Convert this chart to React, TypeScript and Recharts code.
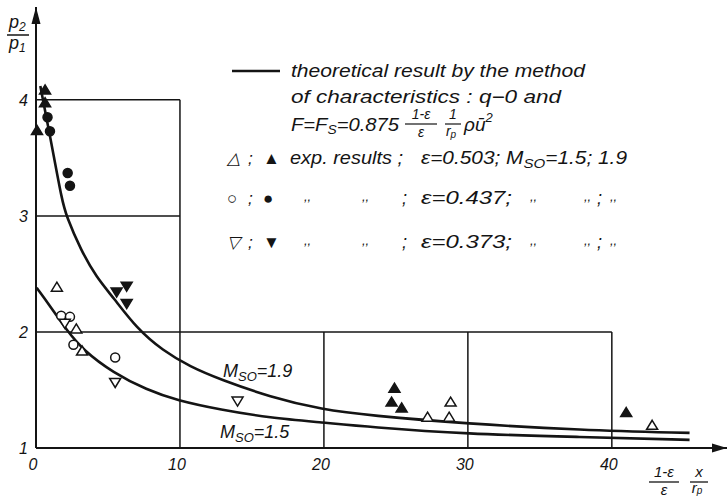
import React from "react";
import { ComposedChart, Line, Scatter, XAxis, YAxis, ReferenceLine, ReferenceDot } from "recharts";

// theoretical curves (x = (1-e)/e * x/rp, y = p2/p1)
const curveM19 = [
  { x: 0.3, y: 4.12 }, { x: 1.2, y: 3.54 }, { x: 1.8, y: 3.14 }, { x: 2.1, y: 3.0 },
  { x: 3.1, y: 2.71 }, { x: 4.2, y: 2.47 }, { x: 5.35, y: 2.3 }, { x: 7.0, y: 2.03 },
  { x: 8.8, y: 1.84 }, { x: 10.7, y: 1.7 }, { x: 12.8, y: 1.59 }, { x: 16.25, y: 1.44 },
  { x: 19.9, y: 1.33 }, { x: 23.2, y: 1.28 }, { x: 29.9, y: 1.21 }, { x: 37.8, y: 1.155 },
  { x: 45.4, y: 1.13 },
];
const curveM15 = [
  { x: 0.05, y: 2.38 }, { x: 1.0, y: 2.22 }, { x: 2.1, y: 2.02 }, { x: 3.3, y: 1.84 },
  { x: 5.35, y: 1.65 }, { x: 7.7, y: 1.5 }, { x: 9.8, y: 1.41 }, { x: 12.8, y: 1.33 },
  { x: 16.25, y: 1.26 }, { x: 19.9, y: 1.22 }, { x: 23.2, y: 1.18 }, { x: 29.9, y: 1.12 },
  { x: 37.8, y: 1.095 }, { x: 45.4, y: 1.07 },
];

// experimental points
const openUp = [
  { x: 1.45, y: 2.39 }, { x: 2.8, y: 2.03 }, { x: 3.2, y: 1.84 }, { x: 27.2, y: 1.27 },
  { x: 28.8, y: 1.4 }, { x: 28.7, y: 1.27 }, { x: 42.8, y: 1.2 },
];
const filledUp = [
  { x: 0.63, y: 4.09 }, { x: 0.63, y: 3.98 }, { x: 0.07, y: 3.74 }, { x: 24.9, y: 1.52 },
  { x: 24.7, y: 1.4 }, { x: 25.4, y: 1.35 }, { x: 41.0, y: 1.31 },
];
const openCircle = [
  { x: 1.75, y: 2.14 }, { x: 2.36, y: 2.13 }, { x: 2.6, y: 1.89 }, { x: 5.5, y: 1.78 },
];
const filledCircle = [
  { x: 0.8, y: 3.85 }, { x: 0.97, y: 3.73 }, { x: 2.2, y: 3.37 }, { x: 2.36, y: 3.26 },
];
const openDown = [{ x: 2.0, y: 2.07 }, { x: 5.5, y: 1.56 }, { x: 14.0, y: 1.4 }];
const filledDown = [{ x: 5.6, y: 2.34 }, { x: 6.3, y: 2.39 }, { x: 6.3, y: 2.24 }];

const xTicks = [0, 10, 20, 30, 40];
const yTicks = [1, 2, 3, 4];

// partial grid of the original figure
const gridSegments = [
  [{ x: 0, y: 4 }, { x: 10, y: 4 }],
  [{ x: 0, y: 3 }, { x: 10, y: 3 }],
  [{ x: 0, y: 2 }, { x: 40, y: 2 }],
  [{ x: 10, y: 1 }, { x: 10, y: 4 }],
  [{ x: 20, y: 1 }, { x: 20, y: 2 }],
  [{ x: 30, y: 1 }, { x: 30, y: 2 }],
  [{ x: 40, y: 1 }, { x: 40, y: 2 }],
];

const INK = "#141414";
const FONT = "'Liberation Sans', Arial, sans-serif";

const tri = (up: boolean, filled: boolean) => (p: any) => {
  const { cx, cy } = p;
  const h = 9, w = 5.5;
  const d = up
    ? `M${cx},${cy - h / 2} L${cx + w},${cy + h / 2} L${cx - w},${cy + h / 2} Z`
    : `M${cx},${cy + h / 2} L${cx + w},${cy - h / 2} L${cx - w},${cy - h / 2} Z`;
  return <path d={d} fill={filled ? INK : "#fff"} stroke={INK} strokeWidth={1.5} />;
};
const circ = (filled: boolean) => (p: any) => (
  <circle cx={p.cx} cy={p.cy} r={4.5} fill={filled ? INK : "#fff"} stroke={INK} strokeWidth={1.5} />
);

const XTick = ({ x, y, payload }: any) => (
  <text x={x - 3} y={y + 22} textAnchor="middle" fontFamily={FONT} fontStyle="italic" fontSize={16} fill={INK}>
    {payload.value}
  </text>
);
const YTick = ({ x, y, payload }: any) => (
  <text x={x - 8} y={y + 6} textAnchor="end" fontFamily={FONT} fontStyle="italic" fontSize={16} fill={INK}>
    {payload.value}
  </text>
);

export default function App() {
  const t = { fontFamily: FONT, fontStyle: "italic", fill: INK } as const;
  const ditto = (x: number, y: number) => <text x={x} y={y - 3} fontSize={13} {...t}>,,</text>;
  const legendRow = (y: number, open: string, filled: string) => (
    <g>
      <text x={227} y={y} fontSize={17} {...t}>{open}</text>
      <text x={248} y={y} fontSize={17} {...t}>;</text>
      <text x={263} y={y} fontSize={17} {...t}>{filled}</text>
    </g>
  );
  return (
    <div style={{ position: "absolute", left: 0, top: 0, width: 727, height: 500, background: "#fff" }}>
      <ComposedChart width={727} height={500} margin={{ top: 7, right: 0, bottom: 22, left: 0 }}>
        <XAxis type="number" dataKey="x" domain={[0, 48]} ticks={xTicks} height={30}
          axisLine={{ stroke: INK, strokeWidth: 2 }} tickLine={false} tickSize={0} tickMargin={0} tick={<XTick />} />
        <YAxis type="number" domain={[1, 4.8]} ticks={yTicks} width={36}
          axisLine={{ stroke: INK, strokeWidth: 2 }} tickLine={false} tickSize={0} tickMargin={0} tick={<YTick />} />
        {gridSegments.map((s, i) => (
          <ReferenceLine key={i} segment={s} stroke={INK} strokeWidth={1.5} ifOverflow="visible" />
        ))}
        <ReferenceDot x={48} y={1} r={0} ifOverflow="visible"
          shape={(p: any) => <path d={`M${p.cx},${p.cy} l-15,-4.5 l0,9 z`} fill={INK} />} />
        <ReferenceDot x={0} y={4.8} r={0} ifOverflow="visible"
          shape={(p: any) => <path d={`M${p.cx},${p.cy} l-4.5,17 l9,0 z`} fill={INK} />} />
        <Line data={curveM19} dataKey="y" type="basis" stroke={INK} strokeWidth={2.6} dot={false} isAnimationActive={false} />
        <Line data={curveM15} dataKey="y" type="basis" stroke={INK} strokeWidth={2.6} dot={false} isAnimationActive={false} />
        <Scatter data={openUp} dataKey="y" shape={tri(true, false)} isAnimationActive={false} />
        <Scatter data={filledUp} dataKey="y" shape={tri(true, true)} isAnimationActive={false} />
        <Scatter data={openCircle} dataKey="y" shape={circ(false)} isAnimationActive={false} />
        <Scatter data={filledCircle} dataKey="y" shape={circ(true)} isAnimationActive={false} />
        <Scatter data={openDown} dataKey="y" shape={tri(false, false)} isAnimationActive={false} />
        <Scatter data={filledDown} dataKey="y" shape={tri(false, true)} isAnimationActive={false} />
      </ComposedChart>

      <svg width={727} height={500} style={{ position: "absolute", left: 0, top: 0, pointerEvents: "none" }}>
        {/* y axis title p2/p1 */}
        <text x={9} y={28} fontSize={18} {...t}>p<tspan fontSize={12} dy={3}>2</tspan></text>
        <line x1={7} x2={29} y1={35} y2={35} stroke={INK} strokeWidth={1.5} />
        <text x={9} y={49} fontSize={18} {...t}>p<tspan fontSize={12} dy={3}>1</tspan></text>

        {/* x axis title */}
        <text x={664} y={477} fontSize={15} textAnchor="middle" {...t}>1-ε</text>
        <line x1={649} x2={679} y1={482} y2={482} stroke={INK} strokeWidth={1.3} />
        <text x={664} y={495} fontSize={15} textAnchor="middle" {...t}>ε</text>
        <text x={699} y={477} fontSize={15} textAnchor="middle" {...t}>x</text>
        <line x1={690} x2={708} y1={482} y2={482} stroke={INK} strokeWidth={1.3} />
        <text x={697} y={493} fontSize={15} textAnchor="middle" {...t}>r<tspan fontSize={10} dy={1}>p</tspan></text>

        {/* legend */}
        <line x1={232} x2={280} y1={71} y2={71} stroke={INK} strokeWidth={2.6} />
        <text x={291} y={77} fontSize={18} textLength={294} lengthAdjust="spacingAndGlyphs" {...t}>theoretical result by the method</text>
        <text x={291} y={103} fontSize={18} textLength={270} lengthAdjust="spacingAndGlyphs" {...t}>of characteristics : q−0 and</text>
        <text x={291} y={131} fontSize={19} textLength={108} lengthAdjust="spacingAndGlyphs" {...t}>F=F<tspan fontSize={13} dy={3}>S</tspan><tspan dy={-3}>=0.875</tspan></text>
        <text x={421} y={119} fontSize={14} textAnchor="middle" {...t}>1-ε</text>
        <line x1={405} x2={437} y1={124} y2={124} stroke={INK} strokeWidth={1.2} />
        <text x={421} y={137} fontSize={14} textAnchor="middle" {...t}>ε</text>
        <text x={453} y={119} fontSize={14} textAnchor="middle" {...t}>1</text>
        <line x1={445} x2={461} y1={124} y2={124} stroke={INK} strokeWidth={1.2} />
        <text x={451} y={136} fontSize={14} textAnchor="middle" {...t}>r<tspan fontSize={10} dy={2}>p</tspan></text>
        <text x={464} y={131} fontSize={19} {...t}>ρū<tspan fontSize={13} dy={-9}>2</tspan></text>

        {legendRow(164, "△", "▲")}
        <text x={290} y={164} fontSize={18} textLength={113} lengthAdjust="spacingAndGlyphs" {...t}>exp. results ;</text>
        <text x={421} y={164} fontSize={18} textLength={206} lengthAdjust="spacingAndGlyphs" {...t}>ε=0.503; M<tspan fontSize={13} dy={4}>SO</tspan><tspan dy={-4}>=1.5; 1.9</tspan></text>

        {legendRow(204, "○", "●")}
        {ditto(304, 204)}
        {ditto(362, 204)}
        <text x={402} y={204} fontSize={18} {...t}>;</text>
        <text x={421} y={204} fontSize={18} textLength={91} lengthAdjust="spacingAndGlyphs" {...t}>ε=0.437;</text>
        {ditto(530, 204)}
        {ditto(584, 204)}
        <text x={597} y={204} fontSize={18} {...t}>;</text>
        {ditto(610, 204)}

        {legendRow(248, "▽", "▼")}
        {ditto(304, 248)}
        {ditto(362, 248)}
        <text x={402} y={248} fontSize={18} {...t}>;</text>
        <text x={421} y={248} fontSize={18} textLength={91} lengthAdjust="spacingAndGlyphs" {...t}>ε=0.373;</text>
        {ditto(530, 248)}
        {ditto(584, 248)}
        <text x={597} y={248} fontSize={18} {...t}>;</text>
        {ditto(610, 248)}

        {/* curve labels */}
        <text x={223} y={377} fontSize={18} {...t}>M<tspan fontSize={13} dy={4}>SO</tspan><tspan dy={-4}>=1.9</tspan></text>
        <text x={220} y={438} fontSize={18} {...t}>M<tspan fontSize={13} dy={4}>SO</tspan><tspan dy={-4}>=1.5</tspan></text>
      </svg>
    </div>
  );
}
